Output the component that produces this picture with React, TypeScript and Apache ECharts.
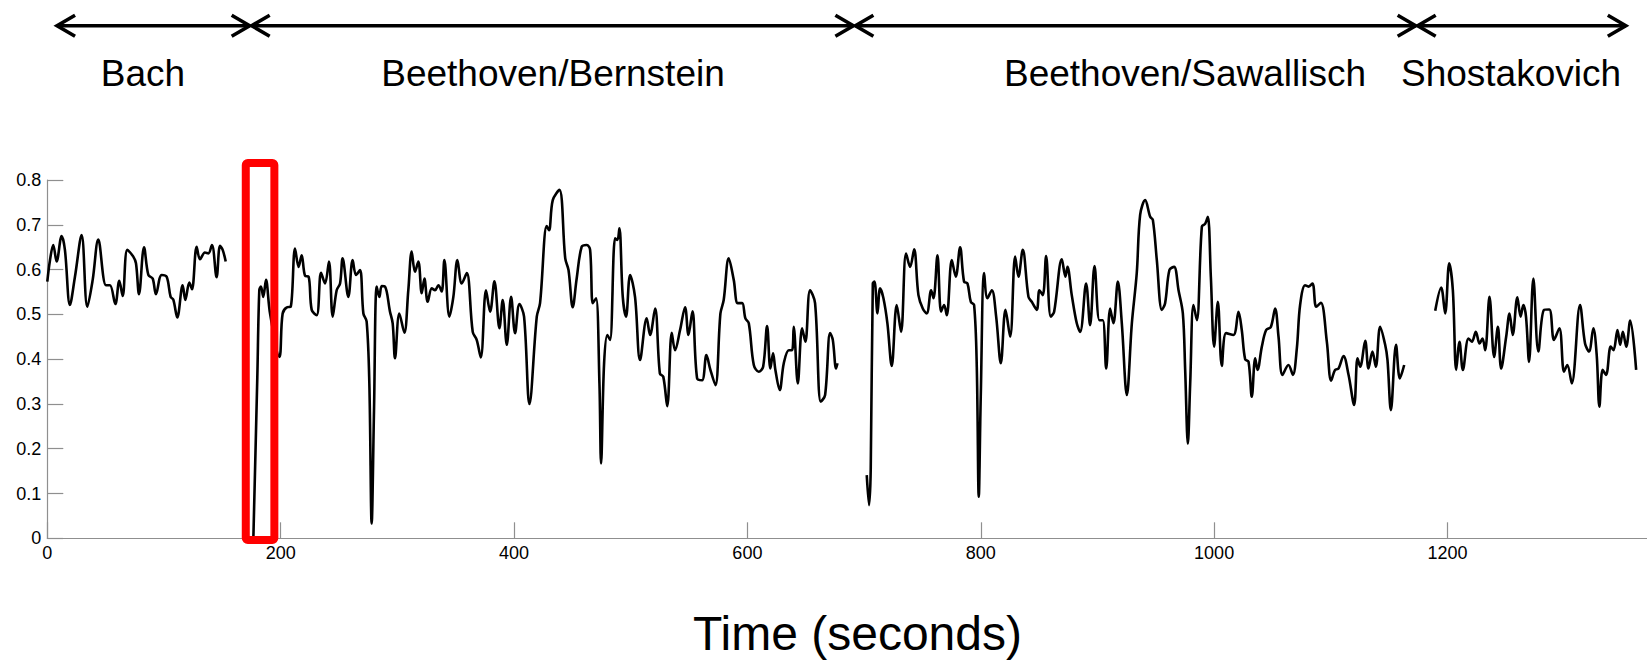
import React, { useEffect, useRef } from "react";
import * as echarts from "echarts";

// Time (seconds) vs. value, one array per recording
const BACH: [number, number][] = [
  [0, 0.573], [2.3, 0.621], [5.1, 0.655], [8, 0.618], [12.3, 0.675], [15.1, 0.644], [19.4, 0.521],
  [23.7, 0.584], [29.4, 0.677], [34.3, 0.517], [38.9, 0.577], [43.7, 0.667], [50.3, 0.565],
  [53.7, 0.565], [58.3, 0.523], [61.7, 0.575], [64.6, 0.541], [68.6, 0.644], [73.7, 0.629],
  [76, 0.614], [78.6, 0.545], [82.9, 0.65], [86.6, 0.588], [90.3, 0.58], [93.1, 0.545], [98, 0.588],
  [102.3, 0.584], [105.7, 0.539], [108, 0.533], [111.4, 0.493], [116, 0.565], [118.3, 0.532],
  [121.7, 0.571], [124, 0.556], [128, 0.651], [130.9, 0.623], [135.1, 0.638], [138, 0.636],
  [141.1, 0.655], [145.1, 0.583], [148, 0.653], [150.3, 0.644], [152.9, 0.618],
];

const BERNSTEIN: [number, number][] = [
  [176.6, 0.0], [180, 0.361], [181.7, 0.554], [183.1, 0.562], [185.1, 0.539], [187.4, 0.577],
  [190.9, 0.502], [198.9, 0.405], [201.7, 0.502], [205.7, 0.516], [208.6, 0.517], [212.3, 0.647],
  [215.4, 0.606], [218, 0.632], [220.9, 0.586], [224, 0.584], [226.6, 0.51], [230.9, 0.498],
  [234.6, 0.593], [238, 0.569], [241.4, 0.618], [244.6, 0.495], [248, 0.554], [250.9, 0.569],
  [253.1, 0.625], [258, 0.539], [261.7, 0.621], [264.6, 0.588], [268, 0.599], [270.9, 0.502],
  [273.7, 0.484], [276, 0.346], [278, 0.033], [280, 0.286], [282.3, 0.562], [284.6, 0.539],
  [286.6, 0.563], [289.4, 0.562], [293.7, 0.506], [296, 0.48], [298, 0.402], [301.7, 0.502],
  [306, 0.459], [309.4, 0.554], [312.3, 0.64], [315.1, 0.595], [318, 0.618], [320.9, 0.547],
  [323.2, 0.58], [326, 0.528], [329.5, 0.558], [332.3, 0.554], [335.2, 0.565], [338, 0.551],
  [340.3, 0.621], [344.6, 0.495], [348, 0.539], [351.5, 0.621], [355.2, 0.569], [359.5, 0.592],
  [364.6, 0.461], [368, 0.443], [371.5, 0.404], [376, 0.554], [379.5, 0.506], [383.2, 0.574],
  [387.5, 0.469], [390.3, 0.532], [393.8, 0.432], [397.5, 0.539], [400.9, 0.458], [404.6, 0.523],
  [408.6, 0.495], [413.2, 0.3], [419.5, 0.495], [422.3, 0.525], [428, 0.697], [430, 0.688],
  [433.2, 0.755], [438.9, 0.778], [443.9, 0.625], [446.7, 0.599], [450.3, 0.516], [453.7, 0.58],
  [458, 0.651], [462.3, 0.655], [465.2, 0.644], [467.5, 0.525], [470.3, 0.536], [473.2, 0.346],
  [474.6, 0.167], [477.2, 0.391], [480, 0.454], [482.3, 0.443], [486.6, 0.67], [488.6, 0.666],
  [490.3, 0.692], [493.2, 0.539], [496, 0.495], [499.5, 0.588], [503.7, 0.539], [508, 0.398],
  [513.7, 0.491], [516.6, 0.454], [520.9, 0.513], [525, 0.368], [527.9, 0.361], [531.3, 0.295],
  [535.2, 0.459], [538, 0.42], [542.3, 0.465], [546.6, 0.516], [549.5, 0.454], [552.9, 0.507],
  [556.9, 0.357], [561.2, 0.353], [564.9, 0.409], [568.3, 0.376], [572.6, 0.342], [576.9, 0.502],
  [579.7, 0.532], [584, 0.625], [588.3, 0.577], [591.7, 0.525], [595.5, 0.525], [598.3, 0.491],
  [601.2, 0.48], [605.5, 0.387], [609.7, 0.372], [613.5, 0.383], [616.9, 0.474], [619.7, 0.379],
  [622, 0.413], [624, 0.376], [627.7, 0.331], [631.2, 0.391], [635.5, 0.42], [638.3, 0.42],
  [639.7, 0.472], [643.2, 0.346], [646.9, 0.469], [649.7, 0.439], [653.7, 0.554], [658, 0.525],
  [662.9, 0.305], [666.6, 0.32], [670.9, 0.458], [673.2, 0.443], [676, 0.379], [677.2, 0.391],
];

const SAWALLISCH: [number, number][] = [
  [702.3, 0.141], [704.3, 0.074], [705.7, 0.153], [707.5, 0.569], [708.9, 0.573], [711.5, 0.502],
  [713.7, 0.558], [716.6, 0.536], [720, 0.48], [723.7, 0.385], [728, 0.521], [731.7, 0.461],
  [736, 0.636], [739.5, 0.606], [742.9, 0.645], [746.6, 0.543], [750.3, 0.513], [753.7, 0.502],
  [757.5, 0.554], [759.5, 0.536], [762.9, 0.632], [766, 0.506], [768.6, 0.521], [770.9, 0.498],
  [775.2, 0.621], [778.6, 0.584], [782.3, 0.65], [785.7, 0.573], [788.6, 0.569], [791.5, 0.528],
  [794.3, 0.521], [796.6, 0.383], [798.3, 0.093], [800, 0.316], [802.9, 0.592], [805.7, 0.536],
  [809.5, 0.554], [813.2, 0.495], [817.2, 0.391], [821.2, 0.51], [825.2, 0.45], [829.5, 0.629],
  [832.3, 0.584], [836, 0.644], [840.9, 0.539], [843.7, 0.528], [848, 0.51], [850.3, 0.554],
  [853.2, 0.543], [856, 0.63], [860, 0.495], [862.9, 0.506], [869.5, 0.623], [872.6, 0.584],
  [874.3, 0.606], [878, 0.543], [882.3, 0.48], [885.2, 0.461], [890.3, 0.569], [893.7, 0.476],
  [897.5, 0.608], [901.7, 0.487], [904.6, 0.487], [907.5, 0.379], [910.9, 0.513], [913.7, 0.48],
  [917.5, 0.573], [920.9, 0.48], [925.2, 0.32], [929.5, 0.48], [933.7, 0.592], [936.6, 0.722],
  [940.9, 0.755], [945.2, 0.718], [947.5, 0.711], [950.9, 0.621], [955.2, 0.51], [958, 0.525],
  [961.7, 0.599], [965.7, 0.606], [969.5, 0.554], [973.2, 0.502], [975.2, 0.376], [977.5, 0.211],
  [979.5, 0.346], [982.3, 0.521], [985.2, 0.487], [989.5, 0.696], [992.3, 0.702], [994.6, 0.718],
  [997.2, 0.584], [1000, 0.428], [1003.2, 0.528], [1006.6, 0.385], [1010.3, 0.458], [1016.6, 0.454],
  [1020.9, 0.506], [1023.7, 0.465], [1026.6, 0.4], [1029.5, 0.394], [1032.3, 0.316], [1035.2, 0.402],
  [1037.2, 0.376], [1040.9, 0.428], [1044.6, 0.465], [1048.6, 0.472], [1052.3, 0.513], [1055.2, 0.45],
  [1058.6, 0.365], [1063.7, 0.387], [1067.5, 0.365], [1070.9, 0.424], [1073.7, 0.521], [1078, 0.565],
  [1080.9, 0.562], [1084.3, 0.569], [1087.5, 0.517], [1091.5, 0.526], [1096.6, 0.439], [1100.3, 0.352],
  [1103.7, 0.376], [1106.6, 0.379], [1110.9, 0.407], [1115.2, 0.365], [1120, 0.298], [1122.9, 0.402],
  [1125.2, 0.383], [1129.5, 0.441], [1132.3, 0.379], [1135.7, 0.417], [1138.6, 0.383], [1142.3, 0.472],
  [1146.6, 0.432], [1148.6, 0.398], [1151.5, 0.286], [1155.9, 0.432], [1159.2, 0.357], [1162.9, 0.387],
];

const SHOSTAKOVICH: [number, number][] = [
  [1189.5, 0.508], [1194.6, 0.56], [1198, 0.502], [1201.5, 0.614], [1204.6, 0.554], [1207.5, 0.376],
  [1210.3, 0.439], [1213.2, 0.376], [1218, 0.446], [1220.9, 0.439], [1224.3, 0.461], [1227.5, 0.435],
  [1230, 0.446], [1232.3, 0.42], [1236, 0.539], [1240, 0.405], [1243.2, 0.472], [1246, 0.379],
  [1250.3, 0.45], [1253.2, 0.502], [1255.9, 0.454], [1259.9, 0.538], [1262.7, 0.495], [1265, 0.521],
  [1267.3, 0.495], [1269.9, 0.394], [1273.6, 0.58], [1277.9, 0.417], [1282.7, 0.51], [1287.3, 0.511],
  [1291.3, 0.443], [1295.9, 0.469], [1299.9, 0.372], [1302.7, 0.387], [1306.5, 0.346], [1313.6, 0.521],
  [1317.9, 0.435], [1321.3, 0.417], [1325, 0.469], [1327.9, 0.409], [1330.2, 0.294], [1333, 0.376],
  [1335.9, 0.365], [1339.9, 0.428], [1342.3, 0.42], [1345.7, 0.465], [1348, 0.432], [1350.3, 0.461],
  [1353.2, 0.428], [1356.6, 0.486], [1361.7, 0.376],
];

const SEGMENTS = [BACH, BERNSTEIN, SAWALLISCH, SHOSTAKOVICH];

// Axis settings
const X_MIN = 0;
const X_MAX = 1371;
const X_INTERVAL = 200;
const Y_MIN = 0;
const Y_MAX = 0.8;
const Y_INTERVAL = 0.1;

// Annotations (in seconds) : arrow boundaries and labels
const SECTION_BOUNDS = [7.5, 174.3, 691.7, 1173.6, 1353.7];
const SECTION_LABELS = ["Bach", "Beethoven/Bernstein", "Beethoven/Sawallisch", "Shostakovich"];
const SECTION_LABEL_X = [143, 553, 1185, 1511];
const HIGHLIGHT = { x0: 170.1, x1: 194.6, y0: -0.004, y1: 0.838 };
const X_TITLE = "Time (seconds)";

const FONT = '"Liberation Sans", Arial, sans-serif';

export default function App() {
  const ref = useRef<HTMLDivElement>(null);

  useEffect(() => {
    if (!ref.current) return;
    const chart = echarts.init(ref.current, null, { renderer: "svg" });
    const axisGray = "#8f8f8f";
    chart.setOption({
      animation: false,
      backgroundColor: "#ffffff",
      grid: { left: 47.3, right: 0, top: 180, bottom: 124.7, containLabel: false },
      xAxis: {
        type: "value",
        min: X_MIN,
        max: X_MAX,
        interval: X_INTERVAL,
        axisLine: { show: true, lineStyle: { color: axisGray, width: 1.2 } },
        axisTick: { show: true, inside: true, length: 16, lineStyle: { color: axisGray, width: 1.2 } },
        axisLabel: {
          margin: 6,
          fontSize: 18,
          color: "#000",
          fontFamily: FONT,
          showMaxLabel: false,
          formatter: (v: number) => String(v),
        },
        splitLine: { show: false },
      },
      yAxis: {
        type: "value",
        min: Y_MIN,
        max: Y_MAX,
        interval: Y_INTERVAL,
        axisLine: { show: true, lineStyle: { color: axisGray, width: 1.2 } },
        axisTick: { show: true, inside: true, length: 16, lineStyle: { color: axisGray, width: 1.2 } },
        axisLabel: {
          margin: 6,
          fontSize: 18,
          color: "#000",
          fontFamily: FONT,
          formatter: (v: number) => (v === 0 ? "0" : String(Math.round(v * 10) / 10)),
        },
        splitLine: { show: false },
      },
      series: SEGMENTS.map((seg, i) => ({
        type: "line",
        name: SECTION_LABELS[i],
        data: seg,
        showSymbol: false,
        symbol: "none",
        smooth: 0.35,
        lineStyle: { color: "#000", width: 2.6 },
        clip: false,
      })),
    });

    const toPx = (x: number, y: number) =>
      chart.convertToPixel({ gridIndex: 0 }, [x, y]) as number[];

    const graphics: any[] = [];
    const arrowY = 25.7;
    const headDx = 19;
    const headDy = 10.5;
    const arrowStyle = { stroke: "#000", lineWidth: 3.6, fill: "none", lineJoin: "miter" };
    for (let i = 0; i < SECTION_BOUNDS.length - 1; i++) {
      const a = toPx(SECTION_BOUNDS[i], 0)[0];
      const b = toPx(SECTION_BOUNDS[i + 1], 0)[0];
      graphics.push({
        type: "line",
        shape: { x1: a + 1, y1: arrowY, x2: b - 1, y2: arrowY },
        style: arrowStyle,
      });
      graphics.push({
        type: "polyline",
        shape: { points: [[a + headDx, arrowY - headDy], [a + 1, arrowY], [a + headDx, arrowY + headDy]] },
        style: arrowStyle,
      });
      graphics.push({
        type: "polyline",
        shape: { points: [[b - headDx, arrowY - headDy], [b - 1, arrowY], [b - headDx, arrowY + headDy]] },
        style: arrowStyle,
      });
      graphics.push({
        type: "text",
        x: SECTION_LABEL_X[i],
        y: 73,
        style: {
          text: SECTION_LABELS[i],
          fontSize: 37,
          fontFamily: FONT,
          fill: "#000",
          align: "center",
          verticalAlign: "middle",
        },
      });
    }

    const p0 = toPx(HIGHLIGHT.x0, HIGHLIGHT.y1);
    const p1 = toPx(HIGHLIGHT.x1, HIGHLIGHT.y0);
    graphics.push({
      type: "rect",
      z: 100,
      shape: { x: p0[0], y: p0[1], width: p1[0] - p0[0], height: p1[1] - p0[1], r: 2 },
      style: { fill: "none", stroke: "#ff0000", lineWidth: 8 },
    });

    graphics.push({
      type: "text",
      x: 857.5,
      y: 633.5,
      style: {
        text: X_TITLE,
        fontSize: 48,
        fontFamily: FONT,
        fill: "#000",
        align: "center",
        verticalAlign: "middle",
      },
    });

    chart.setOption({ graphic: graphics });

    return () => chart.dispose();
  }, []);

  return (
    <div
      ref={ref}
      style={{ position: "fixed", left: 0, top: 0, width: 1647, height: 663, background: "#fff" }}
    />
  );
}
